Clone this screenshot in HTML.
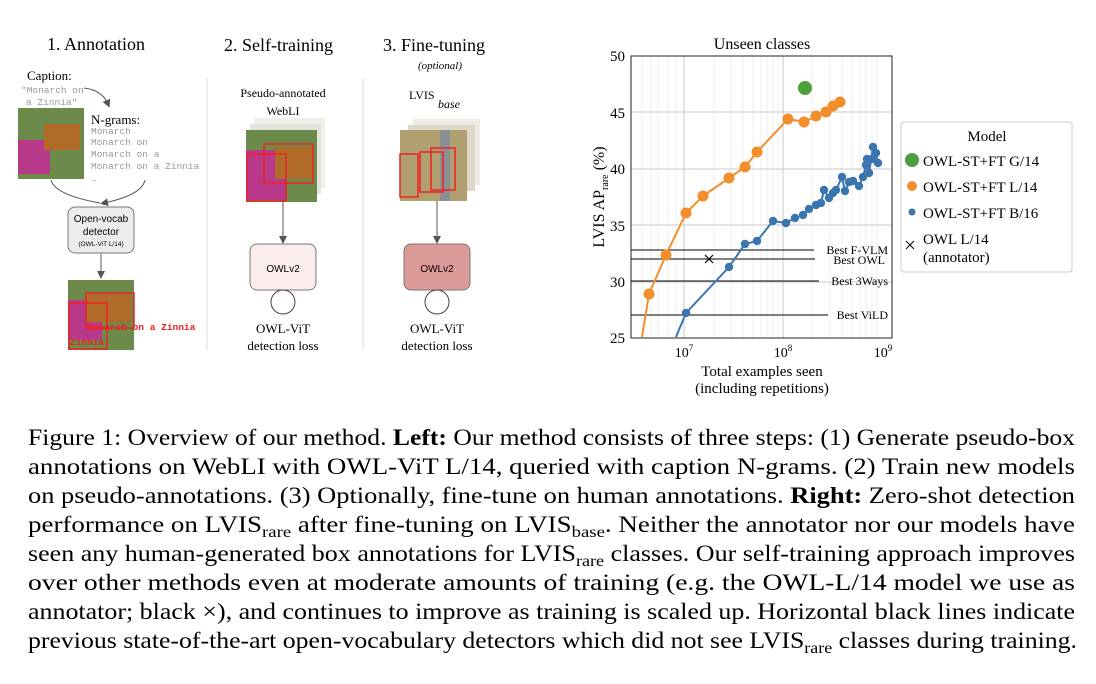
<!DOCTYPE html>
<html><head><meta charset="utf-8"><style>
html,body{margin:0;padding:0;background:#fff;width:1096px;height:684px;overflow:hidden}
svg{display:block}
text{font-family:"Liberation Serif",serif}
.m{font-family:"Liberation Mono",monospace;fill:#999;font-size:9.5px}
.s{font-family:"Liberation Sans",sans-serif}
</style></head><body>
<svg width="1096" height="684" viewBox="0 0 1096 684" xmlns="http://www.w3.org/2000/svg">
<defs><marker id="ar" markerWidth="8" markerHeight="8" refX="4" refY="4" orient="auto"><path d="M0,0 L8,4 L0,8 z" fill="#555"/></marker></defs>
<text x="47" y="50" font-size="18">1. Annotation</text>
<text x="224" y="51" font-size="18">2. Self-training</text>
<text x="383" y="51" font-size="18">3. Fine-tuning</text>
<text x="440" y="69" font-size="11" font-style="italic" text-anchor="middle">(optional)</text>
<line x1="207" y1="78" x2="207" y2="350" stroke="#ddd"/>
<line x1="363" y1="78" x2="363" y2="350" stroke="#ddd"/>
<text x="27" y="80" font-size="13">Caption:</text>
<text x="21" y="93" class="m">"Monarch on</text>
<text x="26" y="105" class="m">a Zinnia"</text>
<path d="M84,88 Q102,90 108,104" fill="none" stroke="#555" marker-end="url(#ar)"/>
<rect x="18" y="108" width="66" height="71" fill="#6c8a4a"/>
<rect x="18" y="140" width="32" height="34" fill="#b8398a"/>
<rect x="44" y="124" width="36" height="26" fill="#b06a2a"/>
<text x="91" y="124" font-size="13">N-grams:</text>
<text x="91" y="134" class="m">Monarch</text>
<text x="91" y="145" class="m">Monarch on</text>
<text x="91" y="157" class="m">Monarch on a</text>
<text x="91" y="169" class="m">Monarch on a Zinnia</text>
<text x="91" y="181" class="m">…</text>
<path d="M51,180 Q55,195 100,203" fill="none" stroke="#555"/>
<path d="M145,180 Q142,195 104,203" fill="none" stroke="#555" marker-end="url(#ar)"/>
<rect x="68" y="207" width="66" height="46" rx="7" fill="#ececec" stroke="#777"/>
<text x="101" y="222" font-size="10" class="s" text-anchor="middle">Open-vocab</text>
<text x="101" y="235" font-size="10" class="s" text-anchor="middle">detector</text>
<text x="101" y="246" font-size="6.5" class="s" text-anchor="middle">(OWL-ViT L/14)</text>
<line x1="101" y1="254" x2="101" y2="275" stroke="#555" marker-end="url(#ar)"/>
<rect x="68" y="280" width="66" height="70" fill="#6c8a4a"/>
<rect x="68" y="300" width="34" height="40" fill="#b8398a"/>
<rect x="86" y="294" width="45" height="28" fill="#b06a2a"/>
<rect x="86" y="293" width="48" height="35" fill="none" stroke="#e22" stroke-width="1.5"/>
<rect x="69" y="303" width="38" height="46" fill="none" stroke="#e22" stroke-width="1.5"/>
<text x="87" y="330" class="m" style="fill:#e22;font-weight:bold">Monarch on a Zinnia</text>
<text x="70" y="345" class="m" style="fill:#e22;font-weight:bold">Zinnia</text>
<text x="283" y="97" font-size="12" text-anchor="middle">Pseudo-annotated</text>
<text x="283" y="115" font-size="12" text-anchor="middle">WebLI</text>
<rect x="254" y="118" width="71" height="70" fill="#f0efea"/>
<rect x="250" y="124" width="71" height="70" fill="#e5e4de"/>
<rect x="246" y="130" width="71" height="72" fill="#6c8a4a"/>
<rect x="246" y="150" width="40" height="50" fill="#b8398a"/>
<rect x="275" y="147" width="38" height="32" fill="#b06a2a"/>
<rect x="264" y="144" width="49" height="39" fill="none" stroke="#e22" stroke-width="1.5"/>
<rect x="247" y="154" width="39" height="47" fill="none" stroke="#e22" stroke-width="1.5"/>
<line x1="283" y1="202" x2="283" y2="240" stroke="#555" marker-end="url(#ar)"/>
<rect x="250" y="244" width="66" height="46" rx="7" fill="#f9ecea" stroke="#777"/>
<text x="283" y="272" font-size="10" class="s" text-anchor="middle">OWLv2</text>
<circle cx="283" cy="302" r="12" fill="none" stroke="#444"/>
<text x="283" y="333" font-size="13" text-anchor="middle">OWL-ViT</text>
<text x="283" y="350" font-size="13" text-anchor="middle">detection loss</text>
<text x="409" y="99" font-size="12">LVIS</text>
<text x="438" y="108" font-size="12" font-style="italic">base</text>
<rect x="413" y="119" width="67" height="66" fill="#eeece4"/>
<rect x="408" y="125" width="67" height="66" fill="#ddd8c8"/>
<rect x="400" y="130" width="67" height="71" fill="#b0a070"/>
<rect x="440" y="130" width="10" height="71" fill="#8a8f95"/>
<rect x="400" y="154" width="18" height="43" fill="none" stroke="#e22" stroke-width="1.5"/>
<rect x="420" y="152" width="23" height="40" fill="none" stroke="#e22" stroke-width="1.5"/>
<rect x="431" y="148" width="24" height="42" fill="none" stroke="#e22" stroke-width="1.5"/>
<line x1="437" y1="201" x2="437" y2="240" stroke="#555" marker-end="url(#ar)"/>
<rect x="404" y="244" width="66" height="46" rx="7" fill="#dc9a98" stroke="#777"/>
<text x="437" y="272" font-size="10" class="s" text-anchor="middle">OWLv2</text>
<circle cx="437" cy="302" r="12" fill="none" stroke="#444"/>
<text x="437" y="333" font-size="13" text-anchor="middle">OWL-ViT</text>
<text x="437" y="350" font-size="13" text-anchor="middle">detection loss</text>

<g stroke="#e6e6e6" stroke-width="0.7">
<line x1="658" y1="56" x2="658" y2="338"/><line x1="668" y1="56" x2="668" y2="338"/><line x1="676" y1="56" x2="676" y2="338"/>
<line x1="642" y1="56" x2="642" y2="338"/><line x1="651" y1="56" x2="651" y2="338"/>
<line x1="714" y1="56" x2="714" y2="338"/><line x1="731" y1="56" x2="731" y2="338"/><line x1="743" y1="56" x2="743" y2="338"/><line x1="753" y1="56" x2="753" y2="338"/><line x1="761" y1="56" x2="761" y2="338"/><line x1="767" y1="56" x2="767" y2="338"/><line x1="773" y1="56" x2="773" y2="338"/><line x1="778" y1="56" x2="778" y2="338"/>
<line x1="812" y1="56" x2="812" y2="338"/><line x1="830" y1="56" x2="830" y2="338"/><line x1="842" y1="56" x2="842" y2="338"/><line x1="852" y1="56" x2="852" y2="338"/><line x1="860" y1="56" x2="860" y2="338"/><line x1="866" y1="56" x2="866" y2="338"/><line x1="872" y1="56" x2="872" y2="338"/><line x1="877" y1="56" x2="877" y2="338"/>
</g>
<g stroke="#c8c8c8" stroke-width="1">
<line x1="684" y1="56" x2="684" y2="338"/><line x1="783" y1="56" x2="783" y2="338"/>
<line x1="631" y1="112" x2="892" y2="112"/><line x1="631" y1="169" x2="892" y2="169"/><line x1="631" y1="225" x2="892" y2="225"/><line x1="631" y1="282" x2="892" y2="282"/>
</g>
<rect x="631" y="56" width="261" height="282" fill="none" stroke="#222" stroke-width="1"/>
<g font-size="15" text-anchor="end">
<text x="625" y="61">50</text><text x="625" y="118">45</text><text x="625" y="174">40</text><text x="625" y="231">35</text><text x="625" y="287">30</text><text x="625" y="343">25</text>
</g>
<g font-size="14" text-anchor="middle">
<text x="684" y="357">10<tspan font-size="9" dy="-6">7</tspan></text>
<text x="783" y="357">10<tspan font-size="9" dy="-6">8</tspan></text>
<text x="883" y="357">10<tspan font-size="9" dy="-6">9</tspan></text>
</g>
<text x="762" y="49" font-size="16" text-anchor="middle">Unseen classes</text>
<text x="762" y="376" font-size="15" text-anchor="middle">Total examples seen</text>
<text x="762" y="393" font-size="15" text-anchor="middle">(including repetitions)</text>
<text transform="translate(604,197) rotate(-90)" font-size="16" text-anchor="middle">LVIS AP<tspan font-size="10" dy="4">rare</tspan><tspan dy="-4"> (%)</tspan></text>
<g stroke="#000" stroke-width="1">
<line x1="631" y1="250" x2="814" y2="250"/><line x1="631" y1="259" x2="815" y2="259"/><line x1="631" y1="281" x2="819" y2="281"/><line x1="631" y1="315" x2="828" y2="315"/>
</g>
<g font-size="12" text-anchor="end">
<text x="888" y="254">Best F-VLM</text><text x="885" y="264">Best OWL</text><text x="888" y="285">Best 3Ways</text><text x="888" y="319">Best ViLD</text>
</g>
<path d="M705,255 l8,8 M713,255 l-8,8" stroke="#000" stroke-width="1.2"/>
<polyline fill="none" stroke="#f28e2b" stroke-width="2" points="642,337 649,294 666,255 686,213 703,196 729,178 745,167 757,152 788,119 804,122 816,116 826,112 833,106 840,102"/>
<g fill="#f28e2b">
<circle cx="649" cy="294" r="5.5"/><circle cx="666" cy="255" r="5.5"/><circle cx="686" cy="213" r="5.5"/><circle cx="703" cy="196" r="5.5"/><circle cx="729" cy="178" r="5.5"/><circle cx="745" cy="167" r="5.5"/><circle cx="757" cy="152" r="5.5"/><circle cx="788" cy="119" r="5.5"/><circle cx="804" cy="122" r="5.5"/><circle cx="816" cy="116" r="5.5"/><circle cx="826" cy="112" r="5.5"/><circle cx="833" cy="106" r="5.5"/><circle cx="840" cy="102" r="5.5"/>
</g>
<circle cx="805" cy="88" r="7" fill="#4ca03c"/>
<polyline fill="none" stroke="#3a75b0" stroke-width="2" points="676,337 686,313 729,267 745,244 757,241 773,221 786,223 795,218 803,215 809,209 816,205 821,203 824,190 829,198 833,193 836,190 842,177 845,191 849,182 853,181 859,186 863,177 866,165 867,159 869,173 873,147 876,153 878,163"/>
<g fill="#3a75b0">
<circle cx="686" cy="313" r="4.2"/><circle cx="729" cy="267" r="4.2"/><circle cx="745" cy="244" r="4.2"/><circle cx="757" cy="241" r="4.2"/><circle cx="773" cy="221" r="4.2"/><circle cx="786" cy="223" r="4.2"/><circle cx="795" cy="218" r="4.2"/><circle cx="803" cy="215" r="4.2"/><circle cx="809" cy="209" r="4.2"/><circle cx="816" cy="205" r="4.2"/><circle cx="821" cy="203" r="4.2"/><circle cx="824" cy="190" r="4.2"/><circle cx="829" cy="198" r="4.2"/><circle cx="833" cy="193" r="4.2"/><circle cx="836" cy="190" r="4.2"/><circle cx="842" cy="177" r="4.2"/><circle cx="845" cy="191" r="4.2"/><circle cx="849" cy="182" r="4.2"/><circle cx="853" cy="181" r="4.2"/><circle cx="859" cy="186" r="4.2"/><circle cx="863" cy="177" r="4.2"/><circle cx="866" cy="165" r="4.2"/><circle cx="867" cy="159" r="4.2"/><circle cx="869" cy="173" r="4.2"/><circle cx="873" cy="147" r="4.2"/><circle cx="876" cy="153" r="4.2"/><circle cx="878" cy="163" r="4.2"/><circle cx="872" cy="159" r="4.2"/>
</g>
<rect x="901" y="122" width="171" height="150" rx="3" fill="#fff" stroke="#ccc"/>
<text x="987" y="141" font-size="15" text-anchor="middle">Model</text>
<circle cx="912" cy="160" r="7" fill="#4ca03c"/>
<circle cx="912" cy="186" r="5" fill="#f28e2b"/>
<circle cx="912" cy="212" r="3.5" fill="#3a75b0"/>
<path d="M906,241 l8,8 M914,241 l-8,8" stroke="#000" stroke-width="1"/>
<g font-size="15">
<text x="923" y="166">OWL-ST+FT G/14</text><text x="923" y="192">OWL-ST+FT L/14</text><text x="923" y="218">OWL-ST+FT B/16</text><text x="923" y="244">OWL L/14</text><text x="923" y="262">(annotator)</text>
</g>
<g font-size="23">
<text x="28" y="445" textLength="1047" lengthAdjust="spacingAndGlyphs">Figure 1: Overview of our method. <tspan font-weight="bold">Left:</tspan> Our method consists of three steps: (1) Generate pseudo-box</text>
<text x="28" y="474" textLength="1047" lengthAdjust="spacingAndGlyphs">annotations on WebLI with OWL-ViT L/14, queried with caption N-grams. (2) Train new models</text>
<text x="28" y="503" textLength="1047" lengthAdjust="spacingAndGlyphs">on pseudo-annotations. (3) Optionally, fine-tune on human annotations. <tspan font-weight="bold">Right:</tspan> Zero-shot detection</text>
<text x="28" y="532" textLength="1047" lengthAdjust="spacingAndGlyphs">performance on LVIS<tspan font-size="16" dy="5">rare</tspan><tspan dy="-5"> after fine-tuning on LVIS</tspan><tspan font-size="16" dy="5">base</tspan><tspan dy="-5">. Neither the annotator nor our models have</tspan></text>
<text x="28" y="561" textLength="1047" lengthAdjust="spacingAndGlyphs">seen any human-generated box annotations for LVIS<tspan font-size="16" dy="5">rare</tspan><tspan dy="-5"> classes. Our self-training approach improves</tspan></text>
<text x="28" y="590" textLength="1047" lengthAdjust="spacingAndGlyphs">over other methods even at moderate amounts of training (e.g. the OWL-L/14 model we use as</text>
<text x="28" y="619" textLength="1047" lengthAdjust="spacingAndGlyphs">annotator; black ×), and continues to improve as training is scaled up. Horizontal black lines indicate</text>
<text x="28" y="648" textLength="1049" lengthAdjust="spacingAndGlyphs">previous state-of-the-art open-vocabulary detectors which did not see LVIS<tspan font-size="16" dy="5">rare</tspan><tspan dy="-5"> classes during training.</tspan></text>
</g>
</svg>
</body></html>
